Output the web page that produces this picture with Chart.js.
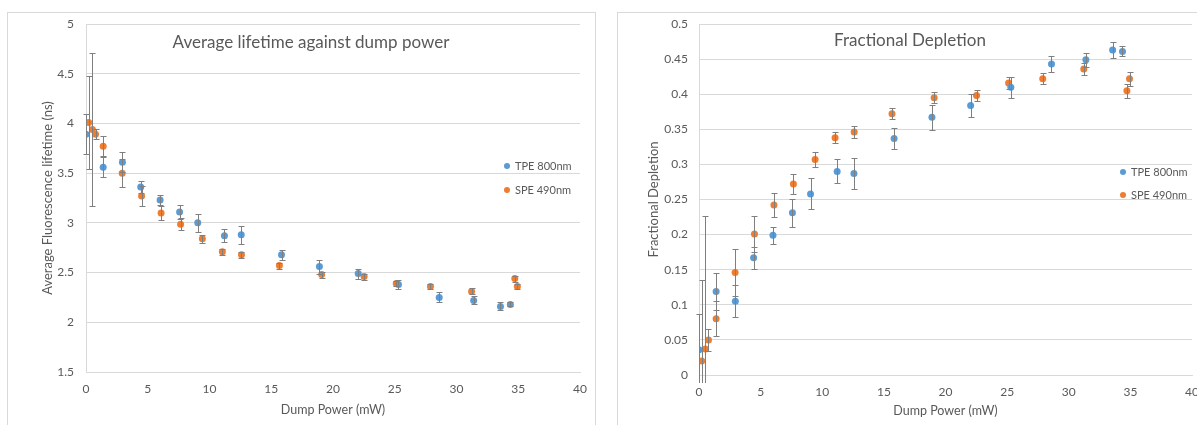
<!DOCTYPE html>
<html>
<head>
<meta charset="utf-8">
<script src="https://cdn.jsdelivr.net/npm/chart.js@4.4.1/dist/chart.umd.min.js"></script>
<style>
    html, body { margin: 0; padding: 0; background: #fff; width: 1197px; height: 425px; overflow: hidden; }
    .box { position: absolute; border: 1px solid #d9d9d9; }
    #boxLifetime { left: 7px; top: 12px; width: 587px; height: 430px; }
    #boxDepletion { left: 617px; top: 12px; width: 600px; height: 430px; }
    canvas { position: absolute; top: 0; }
    #lifetimeChart { left: 0; }
    #depletionChart { left: 598px; }
</style>
</head>
<body>

<div class="box" id="boxLifetime"></div>
<div class="box" id="boxDepletion"></div>

<canvas id="lifetimeChart" width="598" height="425"></canvas>
<canvas id="depletionChart" width="620" height="425"></canvas>

<script>

/* =========================
   DATA
========================= */

const seriesNames = ["TPE 800nm", "SPE 490nm"];

// dump power (mW)
const powerTPE = [0, 1.39, 2.95, 4.43, 6.0, 7.58, 9.05, 11.21, 12.57, 15.83, 18.9, 22.04, 25.3, 28.6, 31.39, 33.56, 34.36];
const powerSPE = [0.22, 0.52, 0.77, 1.39, 2.93, 4.5, 6.08, 7.66, 9.42, 11.04, 12.59, 15.66, 19.08, 22.52, 25.12, 27.89, 31.22, 34.72, 34.93];

// average fluorescence lifetime (ns)
const lifetimeTPE    = [3.89, 3.56, 3.61, 3.36, 3.23, 3.11, 3.0, 2.87, 2.88, 2.68, 2.56, 2.49, 2.38, 2.25, 2.22, 2.16, 2.18];
const lifetimeTPEErr = [0.2, 0.1, 0.1, 0.06, 0.05, 0.07, 0.09, 0.065, 0.09, 0.05, 0.07, 0.05, 0.05, 0.05, 0.04, 0.04, 0.02];
const lifetimeSPE    = [4.01, 3.94, 3.89, 3.77, 3.5, 3.27, 3.1, 2.985, 2.84, 2.71, 2.68, 2.57, 2.48, 2.46, 2.39, 2.36, 2.31, 2.44, 2.36];
const lifetimeSPEErr = [0.47, 0.77, 0.05, 0.1, 0.14, 0.1, 0.07, 0.06, 0.04, 0.03, 0.03, 0.03, 0.03, 0.03, 0.03, 0.03, 0.03, 0.03, 0.03];

// fractional depletion
const depletionTPE    = [0.036, 0.119, 0.105, 0.167, 0.199, 0.231, 0.258, 0.29, 0.287, 0.337, 0.367, 0.384, 0.41, 0.443, 0.449, 0.463, 0.461];
const depletionTPEErr = [0.051, 0.026, 0.023, 0.016, 0.012, 0.02, 0.022, 0.017, 0.022, 0.015, 0.018, 0.016, 0.015, 0.012, 0.01, 0.012, 0.007];
const depletionSPE    = [0.02, 0.037, 0.05, 0.08, 0.146, 0.201, 0.242, 0.272, 0.307, 0.338, 0.346, 0.372, 0.395, 0.398, 0.416, 0.422, 0.436, 0.405, 0.422];
const depletionSPEErr = [0.115, 0.19, 0.016, 0.025, 0.034, 0.026, 0.017, 0.014, 0.01, 0.008, 0.009, 0.008, 0.008, 0.008, 0.008, 0.008, 0.009, 0.01, 0.01];

/* =========================
   STYLE
========================= */

const TEXT = "#595959";
const GRID = "#d9d9d9";
const ERRBAR = "#7f7f7f";
const BLUE = "#5b9bd5";
const ORANGE = "#ed7d31";
const FONT = "Lato";

Chart.defaults.font.family = FONT;
Chart.defaults.color = TEXT;

/* =========================
   PLUGINS
========================= */

const errorBarPlugin = {
    id: "errorBars",
    afterDatasetsDraw(chart) {
        const ctx = chart.ctx;
        const a = chart.chartArea;
        const xs = chart.scales.x;
        const ys = chart.scales.y;

        ctx.save();
        ctx.beginPath();
        ctx.rect(a.left - 5, a.top - 2, a.right - a.left + 10, a.bottom - a.top + 10);
        ctx.clip();
        ctx.strokeStyle = ERRBAR;
        ctx.lineWidth = 1;

        chart.data.datasets.forEach(ds => {
            ds.data.forEach((p, i) => {
                const err = ds.errors[i];
                const x = Math.round(xs.getPixelForValue(p.x)) + 0.5;
                const yTop = Math.round(ys.getPixelForValue(p.y + err)) + 0.5;
                const yBot = Math.round(ys.getPixelForValue(p.y - err)) + 0.5;

                ctx.beginPath();
                ctx.moveTo(x, yTop);
                ctx.lineTo(x, yBot);
                ctx.moveTo(x - 3, yTop);
                ctx.lineTo(x + 3, yTop);
                ctx.moveTo(x - 3, yBot);
                ctx.lineTo(x + 3, yBot);
                ctx.stroke();
            });
        });

        ctx.restore();
    }
};

const overlayPlugin = {
    id: "overlay",
    afterDraw(chart, args, opts) {
        const ctx = chart.ctx;
        const a = chart.chartArea;

        ctx.save();
        ctx.fillStyle = TEXT;
        ctx.font = "17px " + FONT;
        ctx.textAlign = "center";
        ctx.textBaseline = "middle";
        ctx.fillText(opts.title, a.left + opts.titleX, a.top + opts.titleY);

        ctx.font = "11px " + FONT;
        ctx.textAlign = "left";
        chart.data.datasets.forEach((ds, i) => {
            const x = a.right - opts.legendRight;
            const y = a.top + opts.legendTop + i * opts.legendGap;
            ctx.fillStyle = ds.backgroundColor;
            ctx.beginPath();
            ctx.arc(x, y, 3, 0, Math.PI * 2);
            ctx.fill();
            ctx.fillStyle = TEXT;
            ctx.fillText(ds.label, x + 8, y);
        });

        ctx.restore();
    }
};

/* =========================
   HELPERS
========================= */

function toPoints(xs, ys) {
    return xs.map((x, i) => ({ x: x, y: ys[i] }));
}

function makeDataset(label, color, xs, ys, errs) {
    return {
        label: label,
        data: toPoints(xs, ys),
        errors: errs,
        backgroundColor: color,
        borderColor: color,
        borderWidth: 0,
        pointRadius: 3.5,
        pointHoverRadius: 3.5
    };
}

function tickLabel(v) {
    return String(parseFloat(Number(v).toFixed(2)));
}

function scatterChart(id, cfg) {

    new Chart(document.getElementById(id), {

        type: "scatter",

        data: {
            datasets: [
                makeDataset(seriesNames[0], BLUE, powerTPE, cfg.tpe, cfg.tpeErr),
                makeDataset(seriesNames[1], ORANGE, powerSPE, cfg.spe, cfg.speErr)
            ]
        },

        options: {
            responsive: false,
            animation: false,
            layout: { padding: cfg.padding },
            plugins: {
                legend: { display: false },
                tooltip: { enabled: false },
                overlay: cfg.overlay
            },
            scales: {
                x: {
                    type: "linear",
                    min: 0,
                    max: 40,
                    ticks: { stepSize: 5, padding: 10, font: { size: 12 }, callback: tickLabel },
                    grid: { display: false, drawTicks: false },
                    border: { display: true, color: GRID },
                    title: {
                        display: true,
                        text: "Dump Power (mW)",
                        font: { size: 12.5 },
                        padding: { top: 4, bottom: cfg.xTitlePad }
                    },
                    afterFit: s => { s.height = cfg.xHeight; }
                },
                y: {
                    min: cfg.yMin,
                    max: cfg.yMax,
                    ticks: { stepSize: cfg.yStep, padding: cfg.yTickPad, font: { size: 12 }, callback: tickLabel },
                    grid: { color: GRID, drawTicks: false },
                    border: { display: true, color: GRID },
                    title: {
                        display: true,
                        text: cfg.yTitle,
                        font: { size: 13 },
                        padding: { top: 4, bottom: 4 }
                    },
                    afterFit: s => { s.width = cfg.yWidth; }
                }
            }
        },

        plugins: [errorBarPlugin, overlayPlugin]

    });
}

/* =========================
   CHART LIFETIME
========================= */

function renderChartLifetime() {

    scatterChart("lifetimeChart", {
        tpe: lifetimeTPE,
        tpeErr: lifetimeTPEErr,
        spe: lifetimeSPE,
        speErr: lifetimeSPEErr,
        yMin: 1.5,
        yMax: 5,
        yStep: 0.5,
        yTitle: "Average Fluorescence lifetime (ns)",
        yTickPad: 12,
        yWidth: 50,
        xHeight: 53,
        xTitlePad: 8,
        padding: { left: 36, top: 24, right: 18, bottom: 0 },
        overlay: {
            title: "Average lifetime against dump power",
            titleX: 225, titleY: 19,
            legendRight: 73, legendTop: 142, legendGap: 24
        }
    });
}

/* =========================
   CHART DEPLETION
========================= */

function renderChartDepletion() {

    scatterChart("depletionChart", {
        tpe: depletionTPE,
        tpeErr: depletionTPEErr,
        spe: depletionSPE,
        speErr: depletionSPEErr,
        yMin: 0,
        yMax: 0.5,
        yStep: 0.05,
        yTitle: "Fractional Depletion",
        yTickPad: 11,
        yWidth: 57,
        xHeight: 50,
        xTitlePad: 7,
        padding: { left: 44, top: 24, right: 26, bottom: 0 },
        overlay: {
            title: "Fractional Depletion",
            titleX: 211, titleY: 17,
            legendRight: 69, legendTop: 148, legendGap: 23
        }
    });
}

/* =========================
   INIT
========================= */

renderChartLifetime();
renderChartDepletion();

</script>
</body>
</html>
